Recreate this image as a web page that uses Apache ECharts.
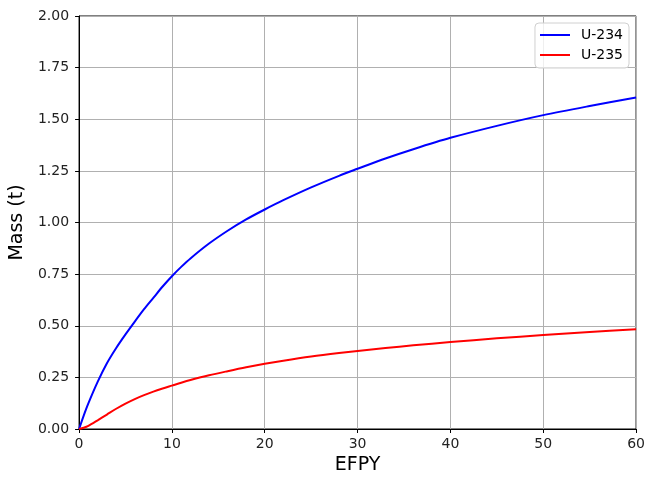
<!DOCTYPE html>
<html>
<head>
<meta charset="utf-8">
<script src="https://cdn.jsdelivr.net/npm/echarts@6/dist/echarts.min.js"></script>
<style>
  html, body { margin: 0; padding: 0; background: #fff; }
  #chart { width: 648px; height: 480px; }
</style>
</head>
<body>
<div id="chart"></div>
<script>
// EFPY sample points
const efpy = [0, 0.5, 1, 2, 3, 4, 5, 6, 7, 8, 9, 10, 11, 12, 14, 16, 18, 20, 22, 25, 28, 30, 33, 36, 40, 45, 50, 55, 60];
// mass in tonnes
const u234 = [0, 0.065, 0.124, 0.228, 0.318, 0.392, 0.458, 0.52, 0.58, 0.635, 0.69, 0.74, 0.785, 0.826, 0.898, 0.96, 1.015, 1.063, 1.108, 1.17, 1.226, 1.26, 1.31, 1.355, 1.41, 1.468, 1.52, 1.564, 1.605];
const u235 = [0, 0.006, 0.015, 0.042, 0.07, 0.098, 0.123, 0.145, 0.164, 0.181, 0.196, 0.21, 0.224, 0.237, 0.26, 0.28, 0.299, 0.316, 0.331, 0.351, 0.368, 0.378, 0.392, 0.405, 0.421, 0.439, 0.455, 0.47, 0.483];

const font = "DejaVu Sans";
const chart = echarts.init(document.getElementById("chart"));

const pairs = (ys) => efpy.map((x, i) => [x, ys[i]]);

chart.setOption({
  animation: false,
  backgroundColor: "#fff",
  textStyle: { fontFamily: font },
  grid: {
    left: 79, right: 11, top: 16, bottom: 50,
    show: true, borderColor: "#000", borderWidth: 1
  },
  legend: {
    orient: "vertical",
    right: 19, top: 23,
    padding: [5, 6, 6, 5],
    itemGap: 6,
    itemWidth: 30, itemHeight: 2,
    backgroundColor: "rgba(255,255,255,0.8)",
    borderColor: "#d0d0d0", borderWidth: 1, borderRadius: 4,
    textStyle: { fontFamily: font, fontSize: 14, color: "#000", padding: [0, 0, 0, 6] },
    data: [
      { name: "U-234", icon: "rect" },
      { name: "U-235", icon: "rect" }
    ]
  },
  xAxis: {
    type: "value",
    min: 0, max: 60, interval: 10,
    name: "EFPY",
    nameLocation: "middle",
    nameGap: 27,
    nameTextStyle: { fontFamily: font, fontSize: 19, color: "#000" },
    axisLine: { lineStyle: { color: "#000", width: 1 } },
    axisTick: { show: true, length: 4, lineStyle: { color: "#000" } },
    axisLabel: { fontFamily: font, fontSize: 14, color: "#222", margin: 8 },
    splitLine: { show: true, lineStyle: { color: "#b0b0b0", width: 1 } }
  },
  yAxis: {
    type: "value",
    min: 0, max: 2, interval: 0.25,
    name: "Mass (t)",
    nameLocation: "middle",
    nameGap: 49,
    nameTextStyle: { fontFamily: font, fontSize: 19, color: "#000" },
    axisLine: { show: true, lineStyle: { color: "#000", width: 1 } },
    axisTick: { show: true, length: 4, lineStyle: { color: "#000" } },
    axisLabel: {
      fontFamily: font, fontSize: 14, color: "#222", margin: 10,
      formatter: (v) => v.toFixed(2)
    },
    splitLine: { show: true, lineStyle: { color: "#b0b0b0", width: 1 } }
  },
  series: [
    {
      name: "U-234",
      type: "line",
      data: pairs(u234),
      smooth: 0.3,
      showSymbol: false,
      color: "#0000ff",
      lineStyle: { color: "#0000ff", width: 2 }
    },
    {
      name: "U-235",
      type: "line",
      data: pairs(u235),
      smooth: 0.3,
      showSymbol: false,
      color: "#ff0000",
      lineStyle: { color: "#ff0000", width: 2 }
    }
  ]
});
</script>
</body>
</html>
